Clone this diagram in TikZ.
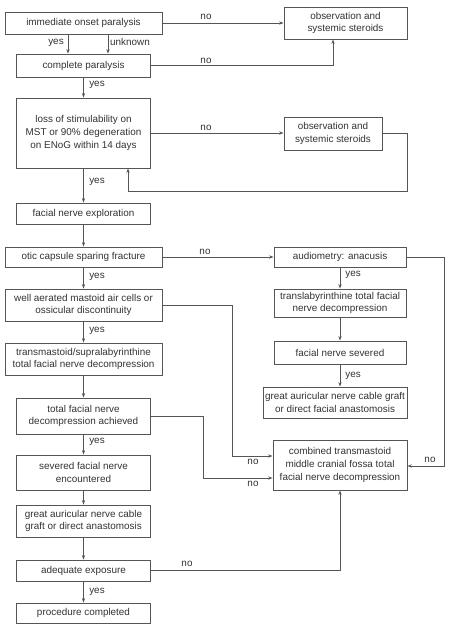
\documentclass[tikz,border=0pt]{standalone}
\usepackage{fontspec}
\setmainfont{Liberation Sans}
\usetikzlibrary{arrows.meta}
\definecolor{ln}{HTML}{555555}
\definecolor{tx}{HTML}{333333}
\tikzset{
  box/.style={draw=ln, line width=0.8pt, rectangle, inner sep=1pt, align=center, text=tx,
    font=\fontsize{9.9}{12.6}\selectfont},
  arr/.style={draw=ln, line width=0.8pt, -{Stealth[length=4.5pt,width=3.2pt]}},
  lbl/.style={text=tx, font=\fontsize{9.9}{12.6}\selectfont, inner sep=0pt}
}
\begin{document}
\begin{tikzpicture}[x=1pt,y=-1pt]
\useasboundingbox[fill=white] (0,0) rectangle (448,629);
% left column
\node[box,minimum width=157pt,minimum height=22pt] (onset) at (83.5,23) {immediate onset paralysis};
\node[box,minimum width=134pt,minimum height=23pt] (complete) at (83.5,65.5) {complete paralysis};
\node[box,minimum width=134pt,minimum height=70pt] (loss) at (83.5,133) {loss of stimulability on\\MST or 90\% degeneration\\on ENoG within 14 days};
\node[box,minimum width=134pt,minimum height=21pt] (explore) at (83.5,213.5) {facial nerve exploration};
\node[box,minimum width=157pt,minimum height=20pt] (otic) at (83.5,257) {otic capsule sparing fracture};
\node[box,minimum width=157pt,minimum height=32pt] (aerated) at (83.5,305) {well aerated mastoid air cells or\\ossicular discontinuity};
\node[box,minimum width=157pt,minimum height=32pt] (transm) at (83.5,359) {transmastoid/supralabyrinthine\\total facial nerve decompression};
\node[box,minimum width=134pt,minimum height=36pt] (achieved) at (83.5,416) {total facial nerve\\decompression achieved};
\node[box,minimum width=134pt,minimum height=35pt] (encount) at (83.5,472.5) {severed facial nerve\\encountered};
\node[box,minimum width=134pt,minimum height=32pt] (auricL) at (83.5,521) {great auricular nerve cable\\graft or direct anastomosis};
\node[box,minimum width=134pt,minimum height=21pt] (adequate) at (83.5,570.5) {adequate exposure};
\node[box,minimum width=134pt,minimum height=20pt] (completed) at (83.5,613) {procedure completed};
% right column
\node[box,minimum width=123pt,minimum height=32pt] (obs1) at (345.5,23) {observation and\\systemic steroids};
\node[box,minimum width=98pt,minimum height=33pt] (obs2) at (333,133.5) {observation and\\systemic steroids};
\node[box,minimum width=132pt,minimum height=20pt] (audio) at (340,257) {audiometry: anacusis};
\node[box,minimum width=132pt,minimum height=28pt] (translab) at (340,303) {translabyrinthine total facial\\nerve decompression};
\node[box,minimum width=132pt,minimum height=23pt] (severed) at (340,352.5) {facial nerve severed};
\node[box,minimum width=144pt,minimum height=31pt] (auricR) at (335,402.5) {great auricular nerve cable graft\\or direct facial anastomosis};
\node[box,minimum width=134pt,minimum height=50pt] (combined) at (340,465) {combined transmastoid\\middle cranial fossa total\\facial nerve decompression};
% helper coordinates
\coordinate (yx) at (68,0);
\coordinate (ux) at (108,0);
\coordinate (c1) at (333,0);
\coordinate (lp) at (407,191);
\coordinate (lx) at (128,0);
\coordinate (k1) at (232,456);
\coordinate (k2) at (203,478);
\coordinate (k3) at (444,466);
% connectors
\draw[arr] (onset.east) -- (onset.east -| obs1.west);
\draw[arr] (onset.south -| yx) -- (complete.north -| yx);
\draw[arr] (onset.south -| ux) -- (complete.north -| ux);
\draw[arr] (complete.east) -| (obs1.south -| c1);
\draw[arr] (complete.south) -- (loss.north);
\draw[arr] (loss.east) -- (loss.east -| obs2.west);
\draw[arr] (obs2.east) -| (lp) -| (loss.south -| lx);
\draw[arr] (loss.south) -- (explore.north);
\draw[arr] (explore.south) -- (otic.north);
\draw[arr] (otic.east) -- (audio.west);
\draw[arr] (otic.south) -- (aerated.north);
\draw[arr] (aerated.south) -- (transm.north);
\draw[arr] (aerated.east) -| (k1) -- (k1 -| combined.west);
\draw[arr] (transm.south) -- (achieved.north);
\draw[arr] (achieved.east) -| (k2) -- (k2 -| combined.west);
\draw[arr] (achieved.south) -- (encount.north);
\draw[arr] (encount.south) -- (auricL.north);
\draw[arr] (auricL.south) -- (adequate.north);
\draw[arr] (adequate.east) -| (combined.south);
\draw[arr] (adequate.south) -- (completed.north);
\draw[arr] (audio.south) -- (translab.north);
\draw[arr] (translab.south) -- (severed.north);
\draw[arr] (severed.south) -- (severed.south |- auricR.north);
\draw[arr] (audio.east) -| (k3) -- (k3 -| combined.east);
% labels
\node[lbl] (l1) at (206,17) {no};
\node[lbl] (l2) at (206,61) {no};
\node[lbl] (l3) at (56,42.5) {yes};
\node[lbl] (l4) at (130,41.5) {unknown};
\node[lbl] (l5) at (97,85) {yes};
\node[lbl] (l6) at (206,128) {no};
\node[lbl] (l7) at (97,182) {yes};
\node[lbl] (l8) at (205,251.5) {no};
\node[lbl] (l9) at (97,277) {yes};
\node[lbl] (l10) at (97,331) {yes};
\node[lbl] (l11) at (97,442) {yes};
\node[lbl] (l12) at (97,592) {yes};
\node[lbl] (l13) at (187,564) {no};
\node[lbl] (l14) at (253,462) {no};
\node[lbl] (l15) at (253,484) {no};
\node[lbl] (l16) at (430,460) {no};
\node[lbl] (l17) at (353,275) {yes};
\node[lbl] (l18) at (353,376) {yes};
\end{tikzpicture}
\end{document}
